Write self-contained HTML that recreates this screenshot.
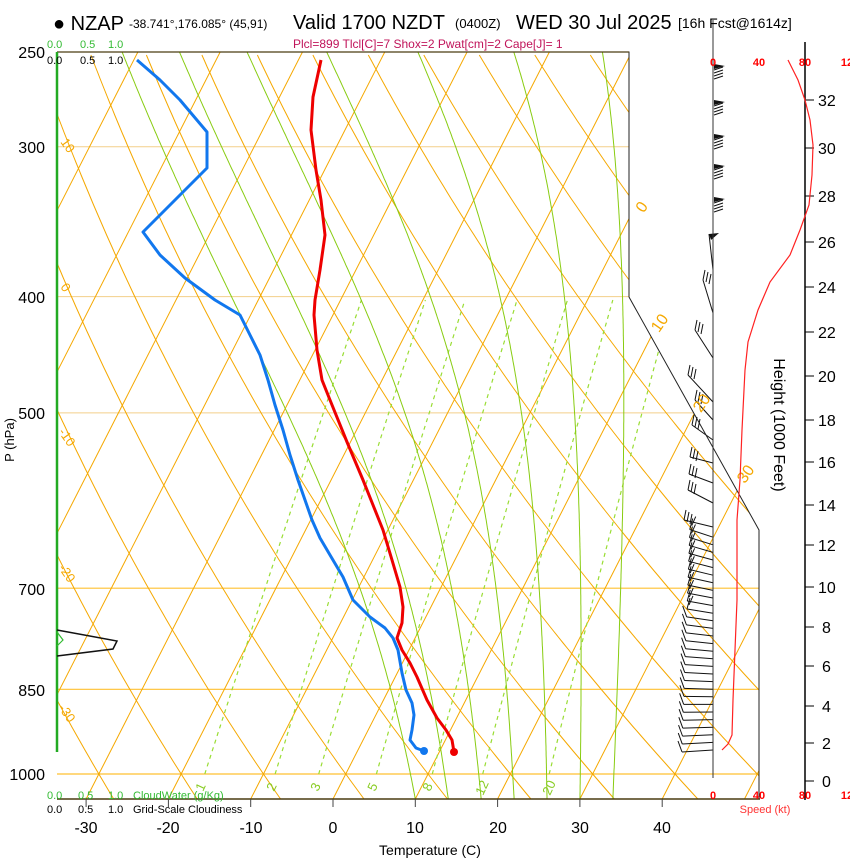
<!DOCTYPE html>
<html><head><meta charset="utf-8"><style>
body{margin:0;background:#fff;}
svg text{font-family:"Liberation Sans",Arial,sans-serif;}
</style></head><body>
<svg id="s" width="850" height="860" xmlns="http://www.w3.org/2000/svg">
<defs><clipPath id="cp"><polygon points="57,52 629,52 629,297 759,530 759,799 57,799"/></clipPath></defs>
<g id="grid" clip-path="url(#cp)"></g>
<g id="prof"></g>
<g id="wind"></g>
<polyline points="57,52 629,52 629,297 759,530 759,799" fill="none" stroke="#222" stroke-width="1"/>
<line x1="57" y1="799" x2="760" y2="799" stroke="#4a3c10" stroke-width="1.5"/>
<line x1="57" y1="52" x2="629" y2="52" stroke="#4a3c10" stroke-width="1.2"/>
<line x1="57" y1="52" x2="57" y2="752" stroke="#22aa22" stroke-width="2.5"/>
<line x1="713" y1="20" x2="713" y2="778" stroke="#333" stroke-width="1"/>
<line x1="805" y1="42" x2="805" y2="800" stroke="#000" stroke-width="1.5"/>
<polyline points="57,630 117,641 113,649 57,656" fill="none" stroke="#111" stroke-width="1.5"/>
<polyline points="57,632 63,640 57,646" fill="none" stroke="#33bb33" stroke-width="1.2"/>
<text x="53" y="30" font-size="20">● NZAP</text>
<text x="129" y="28" font-size="12">-38.741°,176.085° (45,91)</text>
<text x="293" y="29" font-size="20">Valid 1700 NZDT</text>
<text x="455" y="28" font-size="13">(0400Z)</text>
<text x="516" y="29" font-size="20">WED 30 Jul 2025</text>
<text x="678" y="28" font-size="14">[16h Fcst@1614z]</text>
<text x="293" y="48" font-size="12" fill="#c0145a">Plcl=899 Tlcl[C]=7 Shox=2 Pwat[cm]=2 Cape[J]= 1</text>
<g font-size="11" fill="#33bb33"><text x="47" y="48">0.0</text><text x="80" y="48">0.5</text><text x="108" y="48">1.0</text></g>
<g font-size="11" fill="#000"><text x="47" y="64">0.0</text><text x="80" y="64">0.5</text><text x="108" y="64">1.0</text></g>
<g font-size="11" fill="#33bb33"><text x="47" y="799">0.0</text><text x="78" y="799">0.5</text><text x="108" y="799">1.0</text><text x="133" y="799">CloudWater (g/Kg)</text></g>
<g font-size="11" fill="#000"><text x="47" y="813">0.0</text><text x="78" y="813">0.5</text><text x="108" y="813">1.0</text><text x="133" y="813">Grid-Scale Cloudiness</text></g>
<g font-size="16" text-anchor="end"><text x="45" y="58">250</text><text x="45" y="153">300</text><text x="45" y="303">400</text><text x="45" y="419">500</text><text x="45" y="595">700</text><text x="45" y="696">850</text><text x="45" y="780">1000</text></g>
<text transform="translate(14,440) rotate(-90)" font-size="13" text-anchor="middle">P (hPa)</text>
<g id="tt" stroke="#444"></g>
<g font-size="16" text-anchor="middle"><text x="86" y="833">-30</text><text x="168" y="833">-20</text><text x="251" y="833">-10</text><text x="333" y="833">0</text><text x="415" y="833">10</text><text x="498" y="833">20</text><text x="580" y="833">30</text><text x="662" y="833">40</text></g>
<text x="430" y="855" font-size="14" text-anchor="middle">Temperature (C)</text>
<g font-size="16" fill="#f5a800">
<text transform="translate(646,210) rotate(-55)" text-anchor="middle">0</text>
<text transform="translate(664,326) rotate(-55)" text-anchor="middle">10</text>
<text transform="translate(706,406) rotate(-55)" text-anchor="middle">20</text>
<text transform="translate(750,477) rotate(-55)" text-anchor="middle">30</text>
</g>
<g font-size="13" fill="#f5a800">
<text transform="translate(60,142) rotate(55)">10</text>
<text transform="translate(60,287) rotate(55)">0</text>
<text transform="translate(58,432) rotate(55)">-10</text>
<text transform="translate(58,568) rotate(55)">-20</text>
<text transform="translate(58,708) rotate(55)">-30</text>
</g>
<g font-size="13" fill="#88cc22">
<text transform="translate(203,792) rotate(-65)">1</text>
<text transform="translate(274,792) rotate(-65)">2</text>
<text transform="translate(318,792) rotate(-65)">3</text>
<text transform="translate(375,792) rotate(-65)">5</text>
<text transform="translate(430,792) rotate(-65)">8</text>
<text transform="translate(483,796) rotate(-65)">12</text>
<text transform="translate(550,796) rotate(-65)">20</text>
</g>
<g font-size="11" fill="#ff0000" font-weight="bold" text-anchor="middle"><text x="713" y="66">0</text><text x="759" y="66">40</text><text x="805" y="66">80</text><text x="847" y="66">12</text>
<text x="713" y="799">0</text><text x="759" y="799">40</text><text x="805" y="799">80</text><text x="847" y="799">12</text></g>
<text x="765" y="813" font-size="11" fill="#ff3333" text-anchor="middle">Speed (kt)</text>
<g id="ht"></g>
<g font-size="16" text-anchor="start"><text x="822" y="787">0</text><text x="822" y="749">2</text><text x="822" y="712">4</text><text x="822" y="672">6</text><text x="822" y="633">8</text><text x="818" y="593">10</text><text x="818" y="551">12</text><text x="818" y="511">14</text><text x="818" y="468">16</text><text x="818" y="426">18</text><text x="818" y="382">20</text><text x="818" y="338">22</text><text x="818" y="293">24</text><text x="818" y="248">26</text><text x="818" y="202">28</text><text x="818" y="154">30</text><text x="818" y="106">32</text></g>
<text transform="translate(774,425) rotate(90)" font-size="16" text-anchor="middle">Height (1000 Feet)</text>
<polyline fill="none" stroke="#ff2222" stroke-width="1.2" points="722,750 728,744 732,735 733,700 735,650 737,600 737,520 740,480 742,430 745,370 748,342 758,310 770,282 790,255 800,230 809,205 812,175 813,145 810,120 805,100 798,80 788,60"/>
</svg>
<script>
const NS="http://www.w3.org/2000/svg";
function X(T,y){return 333+8.23*T+0.51*(799-y);}
function Y(p){return 774-521*Math.log(1000/p);}
function P(y){return 1000*Math.exp(-(774-y)/521);}
function el(g,tag,a){const e=document.createElementNS(NS,tag);for(const k in a)e.setAttribute(k,a[k]);document.getElementById(g).appendChild(e);return e;}
function pl(g,pts,a){a.points=pts.map(p=>p[0].toFixed(1)+","+p[1].toFixed(1)).join(" ");a.fill="none";return el(g,"polyline",a);}
[300,400,500].forEach(p=>el("grid","line",{x1:57,x2:760,y1:Y(p),y2:Y(p),stroke:"#f3cf8a","stroke-width":1}));
[700,850,1000].forEach(p=>el("grid","line",{x1:57,x2:760,y1:Y(p),y2:Y(p),stroke:"#ffc030","stroke-width":1.2}));
for(let T=-120;T<=60;T+=10){el("grid","line",{x1:X(T,799),y1:799,x2:X(T,52),y2:52,stroke:"#f5a800","stroke-width":1});}
for(let th=-60;th<=200;th+=10){let pts=[];for(let y=799;y>=52;y-=6){let p=P(y);let T=(th+273.15)*Math.pow(p/1000,0.2857)-273.15;pts.push([X(T,y),y]);}pl("grid",pts,{stroke:"#f5a800","stroke-width":1});}
function es(T){return 6.112*Math.exp(17.67*T/(T+243.5));}
[1,2,3,5,8,12,20].forEach(w=>{let pts=[];for(let y=774;y>=297;y-=6){let p=P(y);let e=w*p/(622+w);let l=Math.log(e/6.112);let Td=243.5*l/(17.67-l);pts.push([X(Td,y),y]);}pl("grid",pts,{stroke:"#99dd33","stroke-width":1.2,"stroke-dasharray":"4,4"});});
function moist(T0){let T=T0+273.15,p=1049,pts=[];const d=-0.005;while(p>=240){let y=Y(p);pts.push([X(T-273.15,y),y]);let e=es(T-273.15);let rs=0.622*e/(p-e);let num=287*T+2.5e6*rs;let den=1004+2.5e6*2.5e6*rs/(461.5*T*T);T+=num/den*d;p*=Math.exp(d);}return pts;}
[10,14,18,22,26,30,34].forEach(t=>pl("grid",moist(t),{stroke:"#88cc11","stroke-width":1}));
for(let T=-30;T<=40;T+=10){el("tt","line",{x1:333+8.23*T,y1:799,x2:333+8.23*T,y2:807,stroke:"#444"});}
[781,743,706,666,627,587,545,505,462,420,376,332,287,242,196,148,100].forEach(y=>el("ht","line",{x1:805,x2:814,y1:y,y2:y,stroke:"#000"}));
pl("prof",[[321,60],[313,97],[311,130],[316,170],[321,200],[325,235],[320,270],[315,300],[314,315],[317,350],[322,380],[330,400],[347,442],[363,480],[373,505],[383,530],[392,560],[400,587],[403,607],[402,623],[397,638],[402,650],[410,663],[417,677],[427,700],[437,718],[446,730],[452,740],[454,752]],{stroke:"#ee0000","stroke-width":3,"stroke-linejoin":"round"});
pl("prof",[[137,60],[160,80],[180,100],[207,132],[207,168],[175,200],[143,232],[160,255],[185,278],[215,300],[240,315],[250,335],[260,355],[268,380],[275,405],[283,430],[290,455],[298,480],[305,500],[312,520],[320,538],[330,555],[343,577],[353,600],[370,617],[385,628],[393,638],[398,650],[402,673],[406,690],[412,703],[414,715],[412,730],[410,740],[416,748],[424,751]],{stroke:"#1177ee","stroke-width":3,"stroke-linejoin":"round"});
el("prof","circle",{cx:454,cy:752,r:4,fill:"#ee0000"});
el("prof","circle",{cx:424,cy:751,r:4,fill:"#1177ee"});
for(let y=750;y>=530;y-=7.6){let t=(750-y)/220;let ex=682+t*8,ey=y+2-t*10;el("wind","line",{x1:713,y1:y,x2:ex,y2:ey,stroke:"#111","stroke-width":1});
 let fy=ey-11;el("wind","line",{x1:ex,y1:ey,x2:ex+(t>0.6?3:-4),y2:fy,stroke:"#111","stroke-width":1});
 if(t>0.6)el("wind","line",{x1:ex+2,y1:ey-4,x2:ex+6,y2:ey-13,stroke:"#111","stroke-width":1});}
[[527,684,520],[503,688,490],[483,689,474],[463,690,457],[440,692,425],[420,695,400],[402,688,375],[358,695,330],[313,703,280]].forEach(([y,ex,ey])=>{el("wind","line",{x1:713,y1:y,x2:ex,y2:ey,stroke:"#111","stroke-width":1});for(let k=0;k<3;k++){el("wind","line",{x1:ex+k*3,y1:ey+k*2,x2:ex+k*3+2,y2:ey+k*2-10,stroke:"#111","stroke-width":1});}});
[64,100,134,164,197].forEach(y=>{el("wind","polygon",{points:`714,${y} 725,${y+2} 714,${y+5}`,fill:"#111"});for(let k=1;k<5;k++)el("wind","line",{x1:714,y1:y+3+k*3,x2:723,y2:y+k*3,stroke:"#111","stroke-width":1});});
el("wind","polygon",{points:"709,234 719,233 711,240",fill:"#111"});
el("wind","line",{x1:709,y1:234,x2:713,y2:270,stroke:"#111"});
</script>
</body></html>
